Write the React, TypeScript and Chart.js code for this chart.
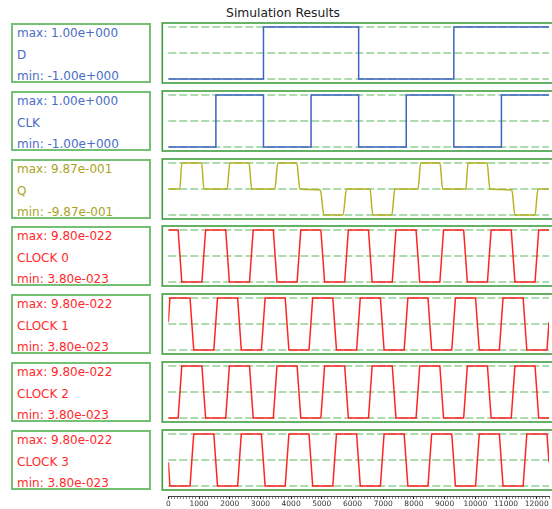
import React, { useEffect, useRef } from 'react';
import { Chart, registerables } from 'chart.js';

Chart.register(...registerables);

// ---------- data ----------
const X_MIN = 0;
const X_MAX = 12400;
const AXIS_TICK_STEP = 100;
const AXIS_LABEL_STEP = 1000;

const D_TIMES = [0, 3100, 6200, 9300, 12400];
const D_LEVELS = [-1, 1, -1, 1, 1];

const CLK_TIMES = [0, 1550, 3100, 4650, 6200, 7750, 9300, 10850, 12400];
const CLK_LEVELS = [-1, 1, -1, 1, -1, 1, -1, 1, 1];

const Q_TIMES = [0, 375, 440, 1085, 1160, 1915, 2005, 2630, 2715, 3470, 3565, 4185, 4285, 4950, 5070, 5690, 5805, 6570, 6660, 7280, 7380, 8135, 8220, 8850, 8935, 9690, 9765, 10385, 10475, 11190, 11290, 11945, 12040, 12400];
const Q_VALUES = [0, 0, 0.987, 0.987, 0, 0, 0.987, 0.987, 0, 0, 0.987, 0.987, 0, -0.04, -0.987, -0.987, 0, 0, -0.987, -0.987, 0, 0, 0.987, 0.987, 0, 0, 0.987, 0.987, 0, -0.04, -0.987, -0.987, 0, 0];

const HI = 9.8e-22;
const LO = 3.8e-23;

const C02_TIMES = [0, 320, 440, 1095, 1215, 1870, 1990, 2645, 2765, 3420, 3540, 4195, 4315, 4970, 5090, 5745, 5865, 6520, 6640, 7295, 7415, 8070, 8190, 8845, 8965, 9620, 9740, 10395, 10515, 11170, 11290, 11945, 12065, 12400];
const C13_TIMES = [0, 52, 708, 828, 1483, 1603, 2258, 2378, 3033, 3153, 3808, 3928, 4583, 4703, 5358, 5478, 6133, 6253, 6908, 7028, 7683, 7803, 8458, 8578, 9233, 9353, 10008, 10128, 10783, 10903, 11558, 11678, 12333, 12400];

const C0_VALUES = [HI, HI, LO, LO, HI, HI, LO, LO, HI, HI, LO, LO, HI, HI, LO, LO, HI, HI, LO, LO, HI, HI, LO, LO, HI, HI, LO, LO, HI, HI, LO, LO, HI, HI];
const C1_VALUES = [5.4e-22, HI, HI, LO, LO, HI, HI, LO, LO, HI, HI, LO, LO, HI, HI, LO, LO, HI, HI, LO, LO, HI, HI, LO, LO, HI, HI, LO, LO, HI, HI, LO, LO, 5.4e-22];
const C2_VALUES = [LO, LO, HI, HI, LO, LO, HI, HI, LO, LO, HI, HI, LO, LO, HI, HI, LO, LO, HI, HI, LO, LO, HI, HI, LO, LO, HI, HI, LO, LO, HI, HI, LO, LO];
const C3_VALUES = [4.7e-22, LO, LO, HI, HI, LO, LO, HI, HI, LO, LO, HI, HI, LO, LO, HI, HI, LO, LO, HI, HI, LO, LO, HI, HI, LO, LO, HI, HI, LO, LO, HI, HI, 4.7e-22];

const SIGNAL_NAMES = ['D', 'CLK', 'Q', 'CLOCK 0', 'CLOCK 1', 'CLOCK 2', 'CLOCK 3'];
const MAX_LABELS = ['max: 1.00e+000', 'max: 1.00e+000', 'max: 9.87e-001', 'max: 9.80e-022', 'max: 9.80e-022', 'max: 9.80e-022', 'max: 9.80e-022'];
const MIN_LABELS = ['min: -1.00e+000', 'min: -1.00e+000', 'min: -9.87e-001', 'min: 3.80e-023', 'min: 3.80e-023', 'min: 3.80e-023', 'min: 3.80e-023'];
const MAX_VALUES = [1, 1, 0.987, HI, HI, HI, HI];
const MIN_VALUES = [-1, -1, -0.987, LO, LO, LO, LO];
const SERIES_TIMES = [D_TIMES, CLK_TIMES, Q_TIMES, C02_TIMES, C13_TIMES, C02_TIMES, C13_TIMES];
const SERIES_VALUES = [D_LEVELS, CLK_LEVELS, Q_VALUES, C0_VALUES, C1_VALUES, C2_VALUES, C3_VALUES];

// ---------- styles ----------
const TITLE = 'Simulation Results';
const FONT = '"DejaVu Sans", Verdana, sans-serif';
const LINE_COLORS = ['#3d63c4', '#3d63c4', '#b5b322', '#ff2424', '#ff2424', '#ff2424', '#ff2424'];
const TEXT_COLORS = ['#4a6dc6', '#4a6dc6', '#a9a31e', '#ff2a2a', '#ff2a2a', '#ff2a2a', '#ff2a2a'];
const STEPPED = [true, true, false, false, false, false, false];
const SMOOTH = [false, false, true, false, false, false, false];
const LEFT_BOX_COLOR = '#74c074';
const RIGHT_BOX_COLOR = '#3f9e3f';
const DASH_COLOR = '#94cf94';
const PANEL_TOPS = [23, 91, 158.6, 226.4, 294.2, 362, 429.8];
const BOX_H = 60;
const PAD_PX = 4;
const PLOT_LEFT = 168.3;
const PLOT_RIGHT = 549;
const CANVAS_LEFT = 158;
const CANVAS_W = 400;

function panelPlugin(lines: number[]) {
  return {
    id: 'panelDecor',
    beforeDatasetsDraw(chart: any) {
      const { ctx, chartArea, scales } = chart;
      const y = scales.y;
      ctx.save();
      ctx.strokeStyle = DASH_COLOR;
      ctx.lineWidth = 1.5;
      ctx.setLineDash([8, 3]);
      for (const v of lines) {
        const py = y.getPixelForValue(v);
        ctx.beginPath();
        ctx.moveTo(chartArea.left, py);
        ctx.lineTo(chartArea.right, py);
        ctx.stroke();
      }
      ctx.setLineDash([]);
      ctx.strokeStyle = RIGHT_BOX_COLOR;
      ctx.lineWidth = 1.6;
      ctx.strokeRect(chartArea.left - 6, chartArea.top, chartArea.right - chartArea.left + 20, chartArea.bottom - chartArea.top);
      ctx.restore();
    },
  };
}

function Panel({ i }: { i: number }) {
  const ref = useRef<HTMLCanvasElement>(null);
  const top = PANEL_TOPS[i];
  useEffect(() => {
    const vmax = MAX_VALUES[i];
    const vmin = MIN_VALUES[i];
    const pad = ((vmax - vmin) * PAD_PX) / (BOX_H - 2 * PAD_PX);
    const pts = SERIES_TIMES[i].map((t, k) => ({ x: t, y: SERIES_VALUES[i][k] }));
    const chart = new Chart(ref.current!, {
      type: 'line',
      data: {
        datasets: [
          {
            data: pts,
            borderColor: LINE_COLORS[i],
            borderWidth: 1.5,
            pointRadius: 0,
            fill: false,
            stepped: STEPPED[i] ? 'before' : false,
            cubicInterpolationMode: SMOOTH[i] ? 'monotone' : 'default',
            tension: 0,
          } as any,
        ],
      },
      options: {
        responsive: false,
        animation: false,
        events: [],
        layout: {
          padding: {
            left: PLOT_LEFT - CANVAS_LEFT,
            right: CANVAS_LEFT + CANVAS_W - PLOT_RIGHT,
            top: 2,
            bottom: 2,
          },
        },
        plugins: { legend: { display: false }, tooltip: { enabled: false }, title: { display: false } },
        scales: {
          x: { type: 'linear', min: X_MIN, max: X_MAX, display: false },
          y: { type: 'linear', min: vmin - pad, max: vmax + pad, display: false },
        },
      },
      plugins: [panelPlugin([vmax, (vmax + vmin) / 2, vmin])],
    });
    return () => chart.destroy();
  }, []);
  return (
    <>
      <div
        style={{
          position: 'absolute',
          left: 11,
          top,
          width: 140,
          height: BOX_H,
          boxSizing: 'border-box',
          border: `2px solid ${LEFT_BOX_COLOR}`,
          fontFamily: FONT,
          fontSize: 12,
          lineHeight: '14px',
          color: TEXT_COLORS[i],
          whiteSpace: 'nowrap',
        }}
      >
        <span style={{ position: 'absolute', left: 4, top: 1 }}>{MAX_LABELS[i]}</span>
        <span style={{ position: 'absolute', left: 4, top: 23 }}>{SIGNAL_NAMES[i]}</span>
        <span style={{ position: 'absolute', left: 4, top: 44 }}>{MIN_LABELS[i]}</span>
      </div>
      <canvas
        ref={ref}
        width={CANVAS_W}
        height={BOX_H + 4}
        style={{ position: 'absolute', left: CANVAS_LEFT, top: top - 2, width: CANVAS_W, height: BOX_H + 4 }}
      />
    </>
  );
}

function Axis() {
  const ref = useRef<HTMLCanvasElement>(null);
  useEffect(() => {
    const chart = new Chart(ref.current!, {
      type: 'line',
      data: { datasets: [] },
      options: {
        responsive: false,
        animation: false,
        events: [],
        layout: {
          padding: { left: PLOT_LEFT - CANVAS_LEFT, right: CANVAS_LEFT + CANVAS_W - PLOT_RIGHT, top: 0, bottom: 0 },
        },
        plugins: { legend: { display: false }, tooltip: { enabled: false } },
        scales: {
          x: {
            type: 'linear',
            position: 'bottom',
            min: X_MIN,
            max: X_MAX,
            grid: {
              display: true,
              drawOnChartArea: false,
              drawTicks: true,
              tickLength: 3,
              tickColor: (c: any) => (c.tick && c.tick.value % AXIS_LABEL_STEP === 0 ? '#222' : '#666'),
              tickWidth: (c: any) => (c.tick && c.tick.value % AXIS_LABEL_STEP === 0 ? 1.2 : 0.8),
            },
            border: { display: true, color: '#444', width: 1 },
            ticks: {
              stepSize: AXIS_TICK_STEP,
              autoSkip: false,
              maxRotation: 0,
              minRotation: 0,
              padding: 1,
              color: '#333',
              font: { family: FONT, size: 7.5 },
              callback: (v: any) => (Number(v) % AXIS_LABEL_STEP === 0 ? String(v) : ''),
            },
          } as any,
          y: { display: false },
        },
      },
    });
    return () => chart.destroy();
  }, []);
  return (
    <canvas
      ref={ref}
      width={CANVAS_W}
      height={30}
      style={{ position: 'absolute', left: CANVAS_LEFT, top: 480, width: CANVAS_W, height: 30 }}
    />
  );
}

export default function App() {
  return (
    <div style={{ position: 'absolute', left: 0, top: 0, width: 552, height: 509, overflow: 'hidden', background: '#fff' }}>
      <div
        style={{
          position: 'absolute',
          left: 183,
          top: 5,
          width: 200,
          textAlign: 'center',
          fontFamily: FONT,
          fontSize: 12.3,
          lineHeight: '16px',
          color: '#222',
        }}
      >
        {TITLE}
      </div>
      {SIGNAL_NAMES.map((_, i) => (
        <Panel key={i} i={i} />
      ))}
      <Axis />
    </div>
  );
}
